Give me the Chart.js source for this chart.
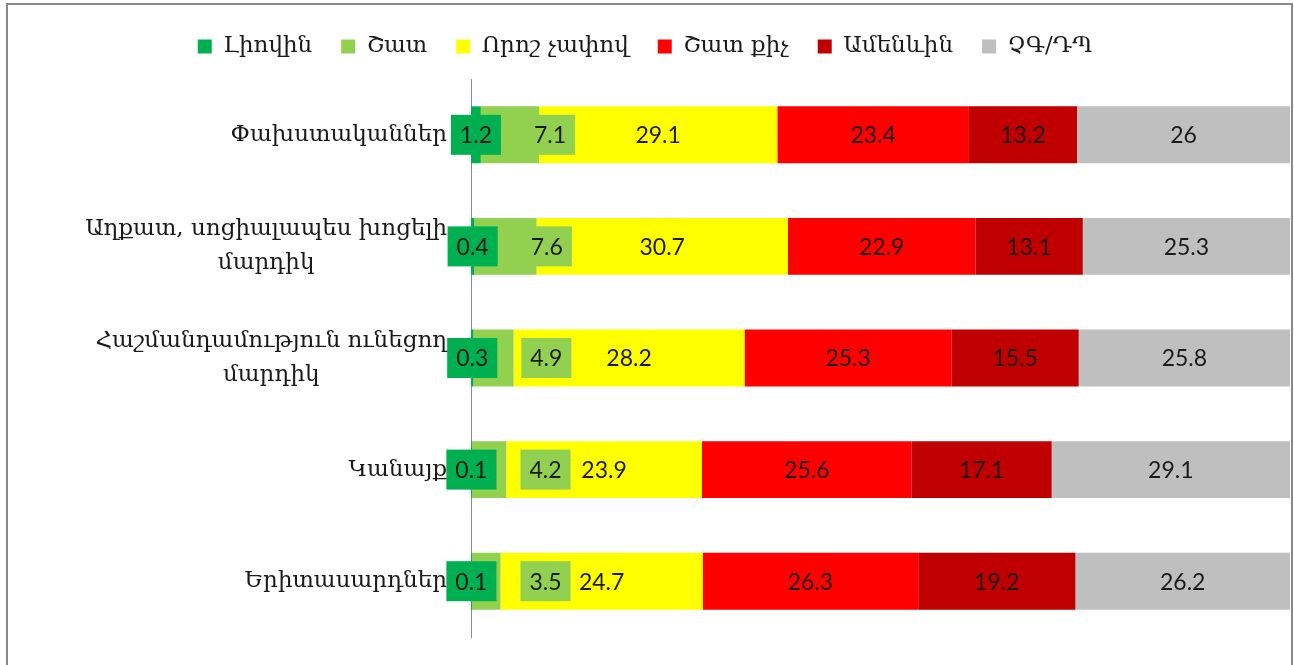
<!DOCTYPE html>
<html>
<head>
<meta charset="utf-8">
<script src="https://cdn.jsdelivr.net/npm/chart.js@4.4.0/dist/chart.umd.min.js"></script>
<style>
  html, body { margin: 0; padding: 0; background: #fff; overflow: hidden; }
  #wrap { position: relative; width: 1294px; height: 665px; }
  #barChart { position: absolute; left: 0; top: 0; }
  #frame { position: absolute; left: 6px; top: 3px; width: 1283px; height: 720px; border: 2px solid #8a8a8a; pointer-events: none; }
</style>
</head>
<body>
<div id="wrap">
  <canvas id="barChart" width="1294" height="665"></canvas>
  <div id="frame"></div>
</div>
<script>
// Stacked 100% bars: answer shares per group

var categories = [
    ['Փախստականներ'],
    ['Աղքատ, սոցիալապես խոցելի', 'մարդիկ'],
    ['Հաշմանդամություն ունեցող', 'մարդիկ'],
    ['Կանայք'],
    ['Երիտասարդներ']
];

var seriesNames = ['Լիովին', 'Շատ', 'Որոշ չափով', 'Շատ քիչ', 'Ամենևին', 'ՉԳ/ԴՊ'];
var seriesColors = ['#00B050', '#92D050', '#FFFF00', '#FF0000', '#C00000', '#BFBFBF'];

var fully     = [1.2, 0.4, 0.3, 0.1, 0.1];
var much      = [7.1, 7.6, 4.9, 4.2, 3.5];
var somewhat  = [29.1, 30.7, 28.2, 23.9, 24.7];
var little    = [23.4, 22.9, 25.3, 25.6, 26.3];
var notAtAll  = [13.2, 13.1, 15.5, 17.1, 19.2];
var dontKnow  = [26, 25.3, 25.8, 29.1, 26.2];

var seriesValues = [fully, much, somewhat, little, notAtAll, dontKnow];

var textColor = '#1a1a1a';
var serifFont = '"DejaVu Serif"';

// category names, right aligned next to the axis, extra lines centred under the first
var categoryText = {
    id: 'categoryText',
    beforeDatasetsDraw: function (chart) {
        var ctx = chart.ctx;
        var meta = chart.getDatasetMeta(0);
        var right = chart.chartArea.left - 24;
        ctx.save();
        ctx.font = '23px ' + serifFont;
        ctx.fillStyle = textColor;
        ctx.textAlign = 'center';
        ctx.textBaseline = 'middle';
        categories.forEach(function (lines, j) {
            var y = meta.data[j].y;
            var widest = Math.max.apply(null, lines.map(function (l) { return ctx.measureText(l).width; }));
            var cx = right - widest / 2;
            lines.forEach(function (l, k) {
                ctx.fillText(l, cx, y + (k - (lines.length - 1) / 2) * 34);
            });
        });
        ctx.restore();
    }
};

// values in the middle of each segment; the two green series get a filled box
var segmentLabels = {
    id: 'segmentLabels',
    afterDatasetsDraw: function (chart) {
        var ctx = chart.ctx;
        ctx.save();
        ctx.font = '23px Lato';
        ctx.textAlign = 'center';
        ctx.textBaseline = 'middle';
        for (var j = 0; j < categories.length; j++) {
            var prevRight = -Infinity;
            chart.data.datasets.forEach(function (ds, i) {
                var bar = chart.getDatasetMeta(i).data[j];
                var text = String(ds.data[j]);
                var cx = (bar.x + bar.base) / 2;
                if (i < 2) {
                    var w = ctx.measureText(text).width + 18;
                    cx = Math.max(cx, prevRight + 24 + w / 2);
                    ctx.fillStyle = ds.backgroundColor;
                    ctx.fillRect(cx - w / 2, bar.y - 20, w, 40);
                    prevRight = cx + w / 2;
                }
                ctx.fillStyle = textColor;
                ctx.fillText(text, cx, bar.y + 1);
            });
        }
        ctx.restore();
    }
};

// a little more room under the legend
var legendGap = {
    id: 'legendGap',
    beforeLayout: function (chart) {
        if (chart.legend && !chart.legend._gapPatched) {
            var fit = chart.legend.fit;
            chart.legend.fit = function () {
                fit.call(this);
                this.height += 11;
            };
            chart.legend._gapPatched = true;
        }
    }
};

var ctx = document.getElementById('barChart').getContext('2d');
var myChart = new Chart(ctx, {
    type: 'bar',
    data: {
        labels: categories,
        datasets: seriesNames.map(function (name, i) {
            return {
                label: name,
                data: seriesValues[i],
                backgroundColor: seriesColors[i],
                borderWidth: 0,
                barPercentage: 0.51,
                categoryPercentage: 1
            };
        })
    },
    options: {
        indexAxis: 'y',
        responsive: false,
        animation: false,
        layout: {
            padding: { top: 6, right: 4, bottom: 28, left: 0 }
        },
        scales: {
            x: {
                stacked: true,
                min: 0,
                max: 100,
                display: false
            },
            y: {
                stacked: true,
                grid: { display: false },
                border: { color: '#8c8c8c', width: 1 },
                ticks: { display: false },
                afterFit: function (scale) {
                    scale.width = 471;
                }
            }
        },
        plugins: {
            legend: {
                display: true,
                position: 'top',
                labels: {
                    boxWidth: 14,
                    boxHeight: 14,
                    padding: 29,
                    color: textColor,
                    font: { family: serifFont, size: 23 }
                }
            },
            tooltip: { enabled: false }
        }
    },
    plugins: [categoryText, segmentLabels, legendGap]
});
</script>
</body>
</html>
